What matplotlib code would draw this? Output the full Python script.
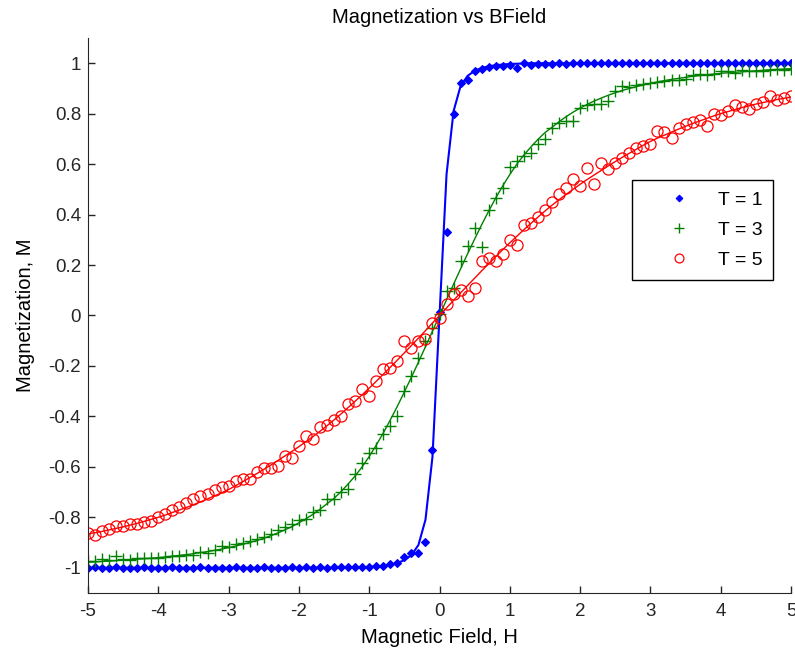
"""Magnetization vs applied field for three temperatures (markers = data, lines = fit)."""

import matplotlib
matplotlib.use("Agg")
import matplotlib.pyplot as plt
import numpy as np
from matplotlib.ticker import FixedLocator, FuncFormatter

plt.rcParams["font.family"] = ["Liberation Sans", "DejaVu Sans"]
plt.rcParams["axes.unicode_minus"] = False

# field values, -5 .. 5 in steps of 0.1
field = np.round(np.arange(-50, 51) / 10, 1)

temps = [1, 3, 5]

mag_t1 = [
    -1.000, -0.999, -1.000, -1.000, -0.999, -1.000, -1.000, -1.000, -0.999, -1.000,
    -1.000, -1.000, -0.999, -1.000, -1.000, -1.000, -0.999, -1.000, -1.000, -1.000,
    -1.000, -0.999, -1.000, -1.000, -1.000, -0.999, -1.000, -1.000, -1.000, -0.999,
    -1.000, -0.999, -1.000, -0.998, -1.000, -0.999, -0.998, -0.999, -0.997, -0.998,
    -0.996, -0.995, -0.992, -0.984, -0.983, -0.957, -0.942, -0.940, -0.896, -0.535,
    0.012,
    0.330, 0.797, 0.922, 0.935, 0.971, 0.977, 0.986, 0.990, 0.990, 0.991,
    0.982, 0.999, 0.994, 0.996, 0.998, 0.998, 0.999, 0.998, 0.999, 1.000,
    1.000, 0.999, 1.000, 1.000, 0.999, 1.000, 1.000, 1.000, 0.999, 1.000,
    1.000, 1.000, 1.000, 1.000, 0.999, 1.000, 1.000, 1.000, 1.000, 1.000,
    1.000, 1.000, 0.999, 1.000, 1.000, 1.000, 1.000, 1.000, 1.000, 1.000,
]

mag_t3 = [
    -0.972, -0.975, -0.965, -0.968, -0.955, -0.967, -0.968, -0.962, -0.963, -0.961,
    -0.960, -0.958, -0.955, -0.952, -0.950, -0.948, -0.939, -0.941, -0.930, -0.913,
    -0.917, -0.906, -0.902, -0.893, -0.885, -0.880, -0.866, -0.850, -0.840, -0.827,
    -0.812, -0.805, -0.781, -0.770, -0.728, -0.728, -0.700, -0.688, -0.629, -0.583,
    -0.545, -0.524, -0.470, -0.438, -0.398, -0.299, -0.240, -0.167, -0.101, -0.050,
    0.005,
    0.098, 0.110, 0.216, 0.275, 0.345, 0.270, 0.420, 0.467, 0.506, 0.590,
    0.612, 0.632, 0.645, 0.678, 0.698, 0.745, 0.764, 0.770, 0.772, 0.823,
    0.835, 0.838, 0.840, 0.850, 0.889, 0.909, 0.905, 0.912, 0.917, 0.920,
    0.925, 0.928, 0.932, 0.935, 0.937, 0.955, 0.957, 0.955, 0.958, 0.968,
    0.970, 0.963, 0.972, 0.970, 0.968, 0.971, 0.974, 0.976, 0.975, 0.979,
]

mag_t5 = [
    -0.862, -0.872, -0.853, -0.845, -0.834, -0.834, -0.826, -0.826, -0.818, -0.814,
    -0.800, -0.787, -0.770, -0.761, -0.745, -0.727, -0.715, -0.708, -0.690, -0.680,
    -0.675, -0.655, -0.649, -0.649, -0.620, -0.603, -0.605, -0.596, -0.556, -0.563,
    -0.517, -0.476, -0.490, -0.444, -0.435, -0.415, -0.398, -0.350, -0.339, -0.292,
    -0.319, -0.259, -0.213, -0.210, -0.180, -0.101, -0.127, -0.101, -0.094, -0.028,
    -0.010,
    0.044, 0.084, 0.100, 0.077, 0.110, 0.216, 0.229, 0.216, 0.243, 0.298,
    0.280, 0.360, 0.366, 0.390, 0.420, 0.450, 0.480, 0.506, 0.540, 0.513,
    0.585, 0.522, 0.605, 0.582, 0.605, 0.625, 0.645, 0.665, 0.670, 0.680,
    0.730, 0.728, 0.704, 0.745, 0.758, 0.765, 0.775, 0.750, 0.800, 0.795,
    0.812, 0.836, 0.825, 0.818, 0.840, 0.848, 0.870, 0.855, 0.862, 0.869,
]

# fitted curves on the same field grid
fit_t1 = [
    -1.000, -1.000, -1.000, -1.000, -1.000, -1.000, -1.000, -1.000, -1.000, -1.000,
    -1.000, -1.000, -1.000, -1.000, -1.000, -1.000, -1.000, -1.000, -1.000, -1.000,
    -1.000, -1.000, -1.000, -1.000, -1.000, -1.000, -1.000, -1.000, -1.000, -1.000,
    -1.000, -1.000, -1.000, -1.000, -1.000, -1.000, -1.000, -1.000, -0.999, -0.998,
    -0.997, -0.995, -0.992, -0.988, -0.981, -0.970, -0.950, -0.910, -0.810, -0.560,
    0.000,
    0.560, 0.810, 0.910, 0.950, 0.970, 0.981, 0.988, 0.992, 0.995, 0.997,
    0.998, 0.999, 1.000, 1.000, 1.000, 1.000, 1.000, 1.000, 1.000, 1.000,
    1.000, 1.000, 1.000, 1.000, 1.000, 1.000, 1.000, 1.000, 1.000, 1.000,
    1.000, 1.000, 1.000, 1.000, 1.000, 1.000, 1.000, 1.000, 1.000, 1.000,
    1.000, 1.000, 1.000, 1.000, 1.000, 1.000, 1.000, 1.000, 1.000, 1.000,
]

fit_t3 = [
    -0.978, -0.977, -0.975, -0.974, -0.972, -0.970, -0.968, -0.966, -0.964, -0.962,
    -0.960, -0.957, -0.954, -0.951, -0.948, -0.944, -0.940, -0.936, -0.931, -0.926,
    -0.920, -0.914, -0.907, -0.900, -0.892, -0.883, -0.873, -0.862, -0.850, -0.837,
    -0.822, -0.806, -0.788, -0.768, -0.746, -0.725, -0.698, -0.668, -0.636, -0.600,
    -0.559, -0.514, -0.466, -0.414, -0.360, -0.303, -0.245, -0.185, -0.124, -0.062,
    0.000,
    0.062, 0.124, 0.185, 0.245, 0.303, 0.360, 0.414, 0.466, 0.514, 0.559,
    0.600, 0.636, 0.668, 0.698, 0.725, 0.746, 0.768, 0.788, 0.806, 0.822,
    0.837, 0.850, 0.862, 0.873, 0.883, 0.892, 0.900, 0.907, 0.914, 0.920,
    0.926, 0.931, 0.936, 0.940, 0.944, 0.948, 0.951, 0.954, 0.957, 0.960,
    0.962, 0.964, 0.966, 0.968, 0.970, 0.972, 0.974, 0.975, 0.977, 0.978,
]

fit_t5 = [
    -0.866, -0.861, -0.856, -0.850, -0.844, -0.838, -0.831, -0.824, -0.816, -0.808,
    -0.800, -0.791, -0.781, -0.771, -0.761, -0.750, -0.739, -0.727, -0.715, -0.703,
    -0.690, -0.675, -0.659, -0.643, -0.627, -0.610, -0.593, -0.575, -0.557, -0.539,
    -0.520, -0.500, -0.480, -0.459, -0.437, -0.414, -0.390, -0.365, -0.340, -0.314,
    -0.288, -0.261, -0.233, -0.205, -0.177, -0.148, -0.119, -0.090, -0.060, -0.030,
    0.000,
    0.030, 0.060, 0.090, 0.119, 0.148, 0.177, 0.205, 0.233, 0.261, 0.288,
    0.314, 0.340, 0.365, 0.390, 0.414, 0.437, 0.459, 0.480, 0.500, 0.520,
    0.539, 0.557, 0.575, 0.593, 0.610, 0.627, 0.643, 0.659, 0.675, 0.690,
    0.703, 0.715, 0.727, 0.739, 0.750, 0.761, 0.771, 0.781, 0.791, 0.800,
    0.808, 0.816, 0.824, 0.831, 0.838, 0.844, 0.850, 0.856, 0.861, 0.866,
]

x_ticks = [-5, -4, -3, -2, -1, 0, 1, 2, 3, 4, 5]
y_ticks = [-1, -0.8, -0.6, -0.4, -0.2, 0, 0.2, 0.4, 0.6, 0.8, 1]

fig = plt.figure(figsize=(7.95, 6.55), dpi=100)
ax = fig.add_axes([0.1107, 0.0947, 0.8843, 0.8473])

styles = [
    dict(color="#0000ff", marker="D", ms=4.2, mfc="#0000ff", mew=0.8, lw=1.5),
    dict(color="#008000", marker="+", ms=9, mfc="none", mew=1.0, lw=1.0),
    dict(color="#ff0000", marker="o", ms=8, mfc="none", mew=0.9, lw=1.0),
]

for temp, marks, fit, st in zip(temps, [mag_t1, mag_t3, mag_t5], [fit_t1, fit_t3, fit_t5], styles):
    ax.plot(field, marks, linestyle="none", marker=st["marker"], ms=st["ms"],
            mfc=st["mfc"], mec=st["color"], mew=st["mew"], label=f"T = {temp}")
    ax.plot(field, fit, color=st["color"], lw=st["lw"])

ax.set_xlim(-5, 5)
ax.set_ylim(-1.1, 1.1)
ax.xaxis.set_major_locator(FixedLocator(x_ticks))
ax.yaxis.set_major_locator(FixedLocator(y_ticks))
fmt = FuncFormatter(lambda v, p: f"{round(v, 1):g}")
ax.xaxis.set_major_formatter(fmt)
ax.yaxis.set_major_formatter(fmt)
ax.tick_params(direction="in", length=5, width=1, labelsize=13.5, colors="#262626")
ax.tick_params(axis="x", pad=7)
ax.tick_params(axis="y", pad=5)
ax.spines["top"].set_visible(False)
ax.spines["right"].set_visible(False)
for side in ("left", "bottom"):
    ax.spines[side].set_color("#262626")

ax.set_title("Magnetization vs BField", fontsize=14.5, pad=11)
ax.set_xlabel("Magnetic Field, H", fontsize=14.5, labelpad=6)
ax.set_ylabel("Magnetization, M", fontsize=14.5, labelpad=10)

leg = ax.legend(loc="upper left", bbox_to_anchor=(0.7738, 0.5, 0.2006, 0.2441),
                mode="expand", borderaxespad=0, fontsize=14,
                frameon=True, fancybox=False, edgecolor="black", framealpha=1,
                handlelength=3.6, handletextpad=0.2, labelspacing=0.62,
                borderpad=0.6, markerscale=0.8)
leg.get_frame().set_linewidth(1.0)

fig.savefig("out.png", dpi=100)
